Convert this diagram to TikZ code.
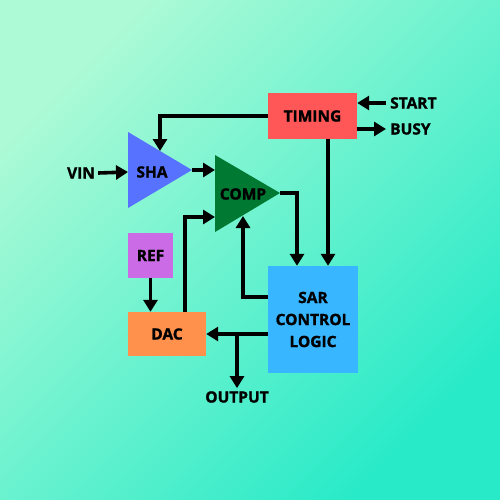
\documentclass[tikz,border=0pt]{standalone}
\usepackage{fontspec}
\setmainfont{Open Sans}[BoldFeatures={FakeBold=1.3}]
\usetikzlibrary{arrows.meta,calc}
\definecolor{bgtop}{RGB}{172,250,214}
\definecolor{bgbot}{RGB}{40,234,200}
\definecolor{mytiming}{RGB}{255,87,87}
\definecolor{mysha}{RGB}{87,114,255}
\definecolor{mycomp}{RGB}{0,122,51}
\definecolor{mysar}{RGB}{56,182,255}
\definecolor{myref}{RGB}{203,108,230}
\definecolor{mydac}{RGB}{255,145,77}
\tikzset{>={Triangle[width=14pt,length=12pt]}}
\tikzset{wire/.style={line width=3.6pt},
  block/.style={inner sep=0pt, align=center, font=\bfseries\fontsize{15.5}{22}\selectfont},
  lbl/.style={inner sep=0pt, font=\bfseries\fontsize{15.5}{18}\selectfont}}

\begin{document}
\begin{tikzpicture}[x=1pt,y=-1pt]
\shade[top color=bgtop, bottom color=bgbot, shading angle=45] (0,0) rectangle (500,500);
\useasboundingbox (0,0) rectangle (500,500);

% blocks
\node[block, fill=mytiming, minimum width=89pt, minimum height=46pt] (timing) at (312.5,116) {TIMING};
\node[block, fill=mysar, minimum width=90pt, minimum height=107pt] (sar) at (313,319.5) {SAR\\CONTROL\\LOGIC};
\node[block, fill=myref, minimum width=45pt, minimum height=45pt] (ref) at (150.5,255.5) {REF};
\node[block, fill=mydac, minimum width=78pt, minimum height=44pt] (dac) at (167,334) {DAC};

% amplifiers
\fill[mysha] (128,132) -- (192,170) -- (128,208) -- cycle;
\node[lbl] (sha) at (152,172) {SHA};
\fill[mycomp] (215,155) -- (280,193) -- (215,232) -- cycle;
\node[lbl] (comp) at (243,194) {COMP};
\coordinate (sha-in) at (128,172);
\coordinate (sha-top) at (160,151);
\coordinate (sha-out) at (192,170);
\coordinate (comp-in1) at (215,170);
\coordinate (comp-in2) at (215,217);
\coordinate (comp-out) at (280,193);
\coordinate (comp-bot) at (243,216);

% labels
\node[lbl] (vin) at (81,173) {VIN};
\node[lbl, anchor=west] (start) at (390,103) {START};
\node[lbl, anchor=west] (busy) at (390,129) {BUSY};
\node[lbl] (output) at (237,397) {OUTPUT};

% connectors
\draw[wire,->] ([xshift=3pt]vin.east) -- (sha-in);
\draw[wire,->] (timing.west) -| (sha-top);
\draw[wire,->] ([xshift=-4pt]start.west) -- (timing.east |- start.west);
\draw[wire,->] (timing.east |- busy.west) -- ([xshift=-4pt]busy.west);
\draw[wire,->] (sha-out) -- (comp-in1);
\draw[wire,->] ([xshift=18pt]dac.north) |- (comp-in2);
\draw[wire,->] (comp-out) -| ([xshift=-16pt]sar.north);
\draw[wire,->] ([xshift=15.5pt]timing.south) -- ([xshift=15pt]sar.north);
\draw[wire,->] ([yshift=22.5pt]sar.west) -| (comp-bot);
\draw[wire,->] (sar.west |- dac.east) -- (dac.east);
\draw[wire,->] (sar.west |- dac.east) -| ([yshift=3pt]output.north);
\draw[wire,->] (ref.south) -- (ref.south |- dac.north);
\end{tikzpicture}
\end{document}
